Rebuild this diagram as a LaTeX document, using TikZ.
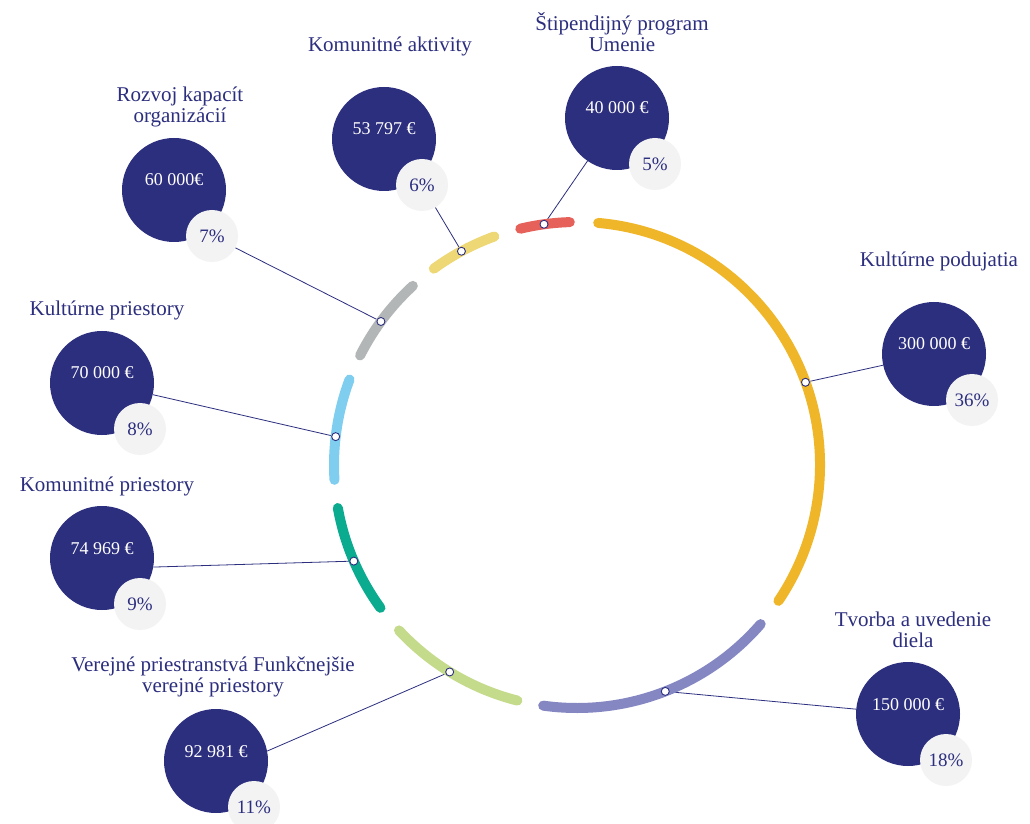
\documentclass[tikz,border=0pt]{standalone}
\usepackage{fontspec}
\setmainfont{Liberation Serif}
\definecolor{navy}{HTML}{2C2E7E}
\definecolor{pgray}{HTML}{F3F3F4}
\definecolor{cOrange}{HTML}{EFB629}
\definecolor{cPurple}{HTML}{8487C2}
\definecolor{cLime}{HTML}{C5DB8C}
\definecolor{cGreen}{HTML}{0BAB8F}
\definecolor{cBlue}{HTML}{7FCEF0}
\definecolor{cGray}{HTML}{B3B6B6}
\definecolor{cLY}{HTML}{EED775}
\definecolor{cRed}{HTML}{E5615A}
\pgfdeclarelayer{bg}
\pgfsetlayers{bg,main}
\tikzset{
 seg/.style={line width=10pt, line cap=round},
 bigc/.style={circle, fill=navy, minimum size=104pt, inner sep=0pt},
 smallc/.style={circle, fill=pgray, minimum size=52pt, inner sep=0pt, text=navy, font=\fontsize{19}{19}\selectfont},
 val/.style={text=white, font=\fontsize{18}{18}\selectfont, anchor=base, inner sep=0pt},
 ttl/.style={text=navy, font=\fontsize{21}{21}\selectfont, align=center, inner sep=0pt, anchor=base},
 dot/.style={circle, draw=navy, fill=white, line width=0.9pt, minimum size=8pt, inner sep=0pt},
 conn/.style={draw=navy, line width=0.8pt},
}
\begin{document}
\begin{tikzpicture}[x=1pt,y=1pt]
\clip (0,0) rectangle (1030,823);
\coordinate (C) at (577,358);

% ring segments
\draw[seg, cOrange] (C) ++(85:243) arc[start angle=85, end angle=-34, radius=243];
\draw[seg, cPurple] (C) ++(-40.9:243) arc[start angle=-40.9, end angle=-98, radius=243];
\draw[seg, cLime] (C) ++(-104.2:243) arc[start angle=-104.2, end angle=-137.1, radius=243];
\draw[seg, cGreen] (C) ++(216:243) arc[start angle=216, end angle=190.2, radius=243];
\draw[seg, cBlue] (C) ++(183.5:243) arc[start angle=183.5, end angle=159.4, radius=243];
\draw[seg, cGray] (C) ++(153.2:243) arc[start angle=153.2, end angle=132.5, radius=243];
\draw[seg, cLY] (C) ++(126.1:243) arc[start angle=126.1, end angle=109.9, radius=243];
\draw[seg, cRed] (C) ++(103.5:243) arc[start angle=103.5, end angle=91.7, radius=243];

% dots
\node[dot] (dRed) at ([shift={(97.8:243)}]C) {};
\node[dot] (dOr) at ([shift={(19.9:243)}]C) {};
\node[dot] (dPur) at ([shift={(-68.7:243)}]C) {};
\node[dot] (dLime) at ([shift={(238.4:243)}]C) {};
\node[dot] (dGreen) at ([shift={(203.3:243)}]C) {};
\node[dot] (dBlue) at ([shift={(173.3:243)}]C) {};
\node[dot] (dGray) at ([shift={(143.8:243)}]C) {};
\node[dot] (dLY) at ([shift={(118.4:243)}]C) {};

% Rozvoj kapacit organizacii
\node[bigc] (rkB) at (174,633) {};
\node[smallc] (rkS) at (212,587) {7\%};
\node[val] (rkV) at ([yshift=4pt]rkB.center) {60 000€};
\node[ttl] (rkT) at (180,700) {Rozvoj kapacít\\organizácií};

% Komunitne aktivity
\node[bigc] (kaB) at (384,684) {};
\node[smallc] (kaS) at (422,638) {6\%};
\node[val] (kaV) at ([yshift=4pt]kaB.center) {53 797 €};
\node[ttl] (kaT) at (390,771) {Komunitné aktivity};

% Stipendijny program Umenie
\node[bigc] (spB) at (617,705) {};
\node[smallc] (spS) at (655,659) {5\%};
\node[val] (spV) at ([yshift=4pt]spB.center) {40 000 €};
\node[ttl] (spT) at (622,771) {Štipendijný program\\Umenie};

% Kulturne podujatia
\node[bigc] (kpB) at (934,469) {};
\node[smallc] (kpS) at (972,423) {36\%};
\node[val] (kpV) at ([yshift=4pt]kpB.center) {300 000 €};
\node[ttl] (kpT) at (939,556) {Kultúrne podujatia};

% Kulturne priestory
\node[bigc] (kprB) at (102,440) {};
\node[smallc] (kprS) at (140,394) {8\%};
\node[val] (kprV) at ([yshift=4pt]kprB.center) {70 000 €};
\node[ttl] (kprT) at (107,507) {Kultúrne priestory};

% Komunitne priestory
\node[bigc] (komB) at (102,265) {};
\node[smallc] (komS) at (140,219) {9\%};
\node[val] (komV) at ([yshift=4pt]komB.center) {74 969 €};
\node[ttl] (komT) at (107,332) {Komunitné priestory};

% Verejne priestranstva
\node[bigc] (vpB) at (216,62) {};
\node[smallc] (vpS) at (254,16) {11\%};
\node[val] (vpV) at ([yshift=4pt]vpB.center) {92 981 €};
\node[ttl] (vpT) at (213,131) {Verejné priestranstvá Funkčnejšie\\verejné priestory};

% Tvorba a uvedenie diela
\node[bigc] (tuB) at (908,109) {};
\node[smallc] (tuS) at (946,63) {18\%};
\node[val] (tuV) at ([yshift=4pt]tuB.center) {150 000 €};
\node[ttl] (tuT) at (913,176) {Tvorba a uvedenie\\diela};

% background and connectors
\begin{pgfonlayer}{bg}
\fill[white] (0,0) rectangle (1030,823);
\draw[conn] (dGray) -- (rkS);
\draw[conn] (dLY) -- (kaS);
\draw[conn] (dRed) -- (spB);
\draw[conn] (dOr) -- (kpB);
\draw[conn] (dBlue) -- (kprB);
\draw[conn] (dGreen) -- (komB.-10);
\draw[conn] (dLime) -- (vpB.11);
\draw[conn] (dPur) -- (tuB);
\end{pgfonlayer}
\end{tikzpicture}
\end{document}
